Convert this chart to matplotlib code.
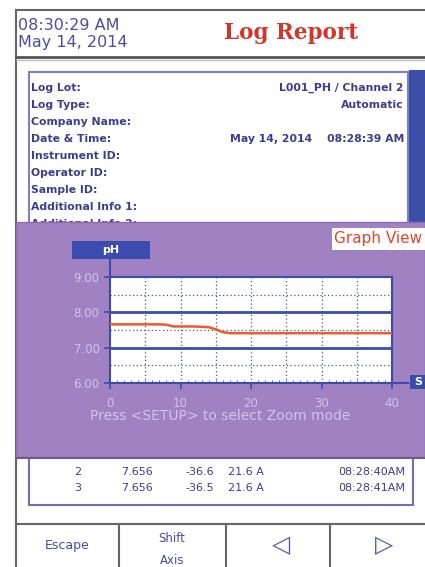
import matplotlib
matplotlib.use("Agg")
import matplotlib.pyplot as plt
from matplotlib.patches import Rectangle

W, H = 425, 567

# logged pH readings, one per second
seconds = list(range(41))
ph_values = [7.66, 7.66, 7.66, 7.66, 7.66, 7.66, 7.66, 7.66, 7.65, 7.60,
             7.60, 7.60, 7.60, 7.59, 7.58, 7.52, 7.44, 7.41, 7.41, 7.41,
             7.41, 7.41, 7.41, 7.41, 7.41, 7.41, 7.41, 7.41, 7.41, 7.41,
             7.41, 7.41, 7.41, 7.41, 7.41, 7.41, 7.41, 7.41, 7.41, 7.41,
             7.41]
y_ticks = [6, 7, 8, 9]
x_ticks = [0, 10, 20, 30, 40]

info_labels = ["Log Lot:", "Log Type:", "Company Name:", "Date & Time:",
               "Instrument ID:", "Operator ID:", "Sample ID:",
               "Additional Info 1:", "Additional Info 2:"]
info_values = ["L001_PH / Channel 2", "Automatic", "", "May 14, 2014    08:28:39 AM",
               "", "", "", "", ""]

row_no = ["2", "3"]
row_ph = ["7.656", "7.656"]
row_mv = ["-36.6", "-36.5"]
row_temp = ["21.6 A", "21.6 A"]
row_time = ["08:28:40AM", "08:28:41AM"]

buttons = ["Escape", "Shift\nAxis", "\u25C1", "\u25B7"]

navy = "#3f3c8e"
purple = "#a081c2"
blue = "#3a4cae"
light = "#d0c4e6"

fig = plt.figure(figsize=(W / 100, H / 100), dpi=100)
ax = fig.add_axes([0, 0, 1, 1])
ax.set_xlim(0, W)
ax.set_ylim(H, 0)
ax.axis("off")

# screen frame and header
ax.plot([16, 16], [10, H], color="#666666", lw=1.5)
ax.plot([16, W], [10, 10], color="#666666", lw=1.5)
ax.plot([16, W], [57, 57], color="#555555", lw=2)
ax.plot([16, W], [60, 60], color="#bbbbbb", lw=1)
ax.text(18, 25, "08:30:29 AM", fontsize=11.5, color="#4e4c9c", va="center")
ax.text(18, 43, "May 14, 2014", fontsize=11.5, color="#4e4c9c", va="center")
ax.text(291, 33, "Log Report", fontsize=15.5, family="DejaVu Serif",
        weight="bold", color="#d2352a", ha="center", va="center")

# info panel
ax.add_patch(Rectangle((29, 72), 379, 160, fc="white", ec="#7e80c6", lw=1.5))
ax.add_patch(Rectangle((409, 70), 16, 155, fc="#3c4ea8", ec="none"))
for i, (lab, val) in enumerate(zip(info_labels, info_values)):
    y = 88 + i * 17
    ax.text(31, y, lab, fontsize=7.8, color=navy, va="center", weight="bold")
    if val:
        ax.text(404, y, val, fontsize=7.8, color=navy, va="center", ha="right",
                weight="bold")

# table below the overlay
ax.add_patch(Rectangle((29, 440), 384, 65, fc="white", ec="#6f6fae", lw=1.5))
for i in range(len(row_no)):
    y = 472 + i * 16
    ax.text(78, y, row_no[i], fontsize=8, color=navy, ha="center", va="center")
    ax.text(137, y, row_ph[i], fontsize=8, color=navy, ha="center", va="center")
    ax.text(200, y, row_mv[i], fontsize=8, color=navy, ha="center", va="center")
    ax.text(246, y, row_temp[i], fontsize=8, color=navy, ha="center", va="center")
    ax.text(405, y, row_time[i], fontsize=8, color=navy, ha="right", va="center")

# buttons
ax.plot([16, W], [524, 524], color="#666666", lw=1.5)
for x in [119, 226, 330]:
    ax.plot([x, x], [524, H], color="#666666", lw=1.5)
btn_x = [67, 172, 281, 384]
for bx, label in zip(btn_x, buttons):
    if label.startswith("Shift"):
        ax.text(bx, 538, "Shift", fontsize=8.5, color="#4a4aa0", ha="center", va="center")
        ax.text(bx, 561, "Axis", fontsize=8.5, color="#4a4aa0", ha="center", va="center")
    elif len(label) == 1:
        ax.text(bx, 545, label, fontsize=17, color="#5656aa", ha="center", va="center")
    else:
        ax.text(bx, 546, label, fontsize=9, color="#4a4aa0", ha="center", va="center")

# purple graph overlay, drawn above the panel text
ax.add_patch(Rectangle((16, 222), W - 16, 235, fc=purple, ec="#8a6cb0", lw=1,
                       zorder=5))
ax.plot([17, W], [457.5, 457.5], color="#6e5a8e", lw=1.5, zorder=6)
ax.add_patch(Rectangle((332, 228), 93, 22, fc="white", ec="none", zorder=6))
ax.text(334, 239, "Graph View", fontsize=11, color="#e2452e", va="center",
        zorder=7)
ax.add_patch(Rectangle((72, 241), 78, 18, fc=blue, ec="none", zorder=6))
ax.text(111, 250, "pH", fontsize=8, color="white", ha="center", va="center",
        weight="bold", zorder=7)
ax.plot([110, 110], [259, 277], color=blue, lw=1.5, zorder=6)
ax.plot([392, 408], [383, 383], color=blue, lw=1.5, zorder=6)
ax.add_patch(Rectangle((410, 375), 15, 14, fc=blue, ec="none", zorder=6))
ax.text(418, 382, "S", fontsize=8, color="white", ha="center", va="center",
        weight="bold", zorder=7)
ax.text(220, 416, "Press <SETUP> to select Zoom mode", fontsize=10,
        color=light, ha="center", va="center", zorder=7)

# the graph itself
g = fig.add_axes([110 / W, 1 - 383 / H, (392 - 110) / W, (383 - 277) / H])
g.set_facecolor("white")
g.set_xlim(0, 40)
g.set_ylim(6, 9)
for x in range(5, 40, 5):
    g.axvline(x, color="#4a5590", lw=0.9, ls=(0, (1, 2)), zorder=1)
for y in [6.5, 7.5, 8.5]:
    g.axhline(y, color="#4a5590", lw=0.9, ls=(0, (1, 2)), zorder=1)
for y in [7, 8]:
    g.axhline(y, color=blue, lw=2, zorder=1)
g.plot(seconds, ph_values, color="#ee5a2c", lw=1.8, zorder=3)
for s in g.spines.values():
    s.set_color(blue)
    s.set_linewidth(1.5)
g.set_yticks(y_ticks)
g.set_yticklabels(["%.2f" % v for v in y_ticks])
g.set_xticks(x_ticks)
g.set_xticklabels([str(v) for v in x_ticks])
g.set_xticks(range(0, 41), minor=True)
g.tick_params(axis="both", colors=blue, labelcolor=light, labelsize=8.5,
              length=4, width=1.2)
g.tick_params(axis="x", which="minor", colors=blue, length=2, direction="in")
g.tick_params(axis="x", pad=6)

fig.savefig("out.png", dpi=100)
